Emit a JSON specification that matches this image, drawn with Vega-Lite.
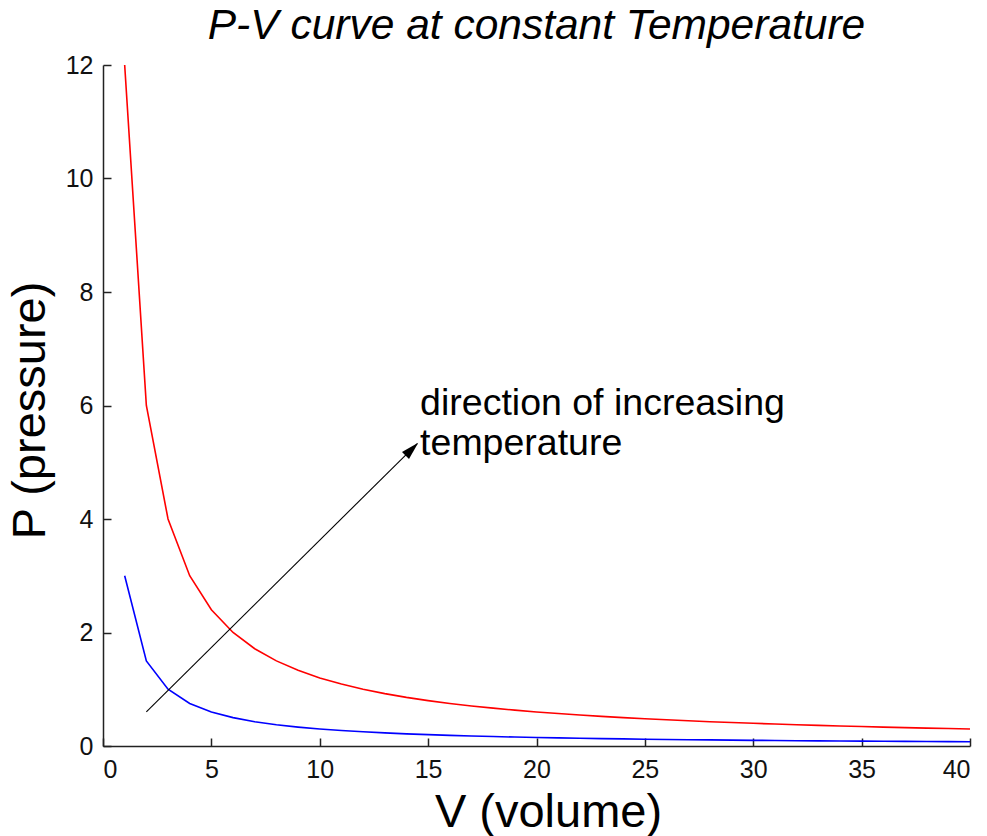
{
  "$schema": "https://vega.github.io/schema/vega-lite/v6.json",
  "autosize": {"type": "none"},
  "width": 867,
  "height": 681,
  "padding": {"left": 103, "top": 65, "right": 17, "bottom": 90},
  "background": "white",
  "config": {
    "font": "Liberation Sans",
    "view": {"stroke": null},
    "axis": {
      "grid": false,
      "domainColor": "#222222",
      "domainWidth": 1.5,
      "tickColor": "#222222",
      "tickWidth": 1.5,
      "tickSize": -8,
      "labelFont": "Liberation Sans",
      "labelFontSize": 25,
      "labelColor": "#111111",
      "titleFont": "Liberation Sans",
      "titleFontSize": 47,
      "titleFontWeight": "normal",
      "titleColor": "#000000"
    }
  },
  "title": {
    "text": "P-V curve at constant Temperature",
    "font": "Liberation Sans",
    "fontSize": 42.5,
    "fontStyle": "italic",
    "fontWeight": "normal",
    "color": "#000000",
    "anchor": "middle",
    "frame": "group",
    "offset": 6
  },
  "datasets": {
    "hot": [
      {"V": 1, "P": 12}, {"V": 2, "P": 6}, {"V": 3, "P": 4}, {"V": 4, "P": 3},
      {"V": 5, "P": 2.4}, {"V": 6, "P": 2}, {"V": 7, "P": 1.7143}, {"V": 8, "P": 1.5},
      {"V": 9, "P": 1.3333}, {"V": 10, "P": 1.2}, {"V": 11, "P": 1.0909}, {"V": 12, "P": 1},
      {"V": 13, "P": 0.9231}, {"V": 14, "P": 0.8571}, {"V": 15, "P": 0.8}, {"V": 16, "P": 0.75},
      {"V": 17, "P": 0.7059}, {"V": 18, "P": 0.6667}, {"V": 19, "P": 0.6316}, {"V": 20, "P": 0.6},
      {"V": 21, "P": 0.5714}, {"V": 22, "P": 0.5455}, {"V": 23, "P": 0.5217}, {"V": 24, "P": 0.5},
      {"V": 25, "P": 0.48}, {"V": 26, "P": 0.4615}, {"V": 27, "P": 0.4444}, {"V": 28, "P": 0.4286},
      {"V": 29, "P": 0.4138}, {"V": 30, "P": 0.4}, {"V": 31, "P": 0.3871}, {"V": 32, "P": 0.375},
      {"V": 33, "P": 0.3636}, {"V": 34, "P": 0.3529}, {"V": 35, "P": 0.3429}, {"V": 36, "P": 0.3333},
      {"V": 37, "P": 0.3243}, {"V": 38, "P": 0.3158}, {"V": 39, "P": 0.3077}, {"V": 40, "P": 0.3}
    ],
    "cold": [
      {"V": 1, "P": 3}, {"V": 2, "P": 1.5}, {"V": 3, "P": 1}, {"V": 4, "P": 0.75},
      {"V": 5, "P": 0.6}, {"V": 6, "P": 0.5}, {"V": 7, "P": 0.4286}, {"V": 8, "P": 0.375},
      {"V": 9, "P": 0.3333}, {"V": 10, "P": 0.3}, {"V": 11, "P": 0.2727}, {"V": 12, "P": 0.25},
      {"V": 13, "P": 0.2308}, {"V": 14, "P": 0.2143}, {"V": 15, "P": 0.2}, {"V": 16, "P": 0.1875},
      {"V": 17, "P": 0.1765}, {"V": 18, "P": 0.1667}, {"V": 19, "P": 0.1579}, {"V": 20, "P": 0.15},
      {"V": 21, "P": 0.1429}, {"V": 22, "P": 0.1364}, {"V": 23, "P": 0.1304}, {"V": 24, "P": 0.125},
      {"V": 25, "P": 0.12}, {"V": 26, "P": 0.1154}, {"V": 27, "P": 0.1111}, {"V": 28, "P": 0.1071},
      {"V": 29, "P": 0.1034}, {"V": 30, "P": 0.1}, {"V": 31, "P": 0.0968}, {"V": 32, "P": 0.0938},
      {"V": 33, "P": 0.0909}, {"V": 34, "P": 0.0882}, {"V": 35, "P": 0.0857}, {"V": 36, "P": 0.0833},
      {"V": 37, "P": 0.0811}, {"V": 38, "P": 0.0789}, {"V": 39, "P": 0.0769}, {"V": 40, "P": 0.075}
    ],
    "arrow": [
      {"V": 2, "P": 0.6, "V2": 14.5, "P2": 5.33}
    ],
    "head": [
      {"V": 14.25, "P": 5.23}
    ],
    "note": [
      {"V": 14.63, "P": 5.83, "label": "direction of increasing"},
      {"V": 14.63, "P": 5.13, "label": "temperature"}
    ]
  },
  "encoding": {
    "x": {
      "field": "V",
      "type": "quantitative",
      "scale": {"domain": [0, 40], "nice": false, "zero": false},
      "axis": {
        "title": "V (volume)",
        "values": [0, 5, 10, 15, 20, 25, 30, 35, 40],
        "labelPadding": 19,
        "titleX": 445,
        "titleY": 66,
        "titleBaseline": "middle",
        "titleAlign": "center"
      }
    },
    "y": {
      "field": "P",
      "type": "quantitative",
      "scale": {"domain": [0, 12], "nice": false, "zero": false},
      "axis": {
        "title": "P (pressure)",
        "values": [0, 2, 4, 6, 8, 10, 12],
        "labelPadding": 18,
        "titleX": -73,
        "titleY": 345,
        "titleBaseline": "middle",
        "titleAlign": "center",
        "titleAngle": -90
      }
    }
  },
  "layer": [
    {
      "data": {"name": "cold"},
      "mark": {"type": "line", "color": "#0000ff", "strokeWidth": 1.6}
    },
    {
      "data": {"name": "hot"},
      "mark": {"type": "line", "color": "#ff0000", "strokeWidth": 1.6}
    },
    {
      "data": {"name": "arrow"},
      "mark": {"type": "rule", "color": "#000000", "strokeWidth": 1.1},
      "encoding": {
        "x2": {"field": "V2"},
        "y2": {"field": "P2"}
      }
    },
    {
      "data": {"name": "head"},
      "mark": {
        "type": "point",
        "shape": "M0,-1L0.55,1L-0.55,1Z",
        "filled": true,
        "color": "#000000",
        "opacity": 1,
        "size": 324,
        "angle": 45
      }
    },
    {
      "data": {"name": "note"},
      "mark": {
        "type": "text",
        "font": "Liberation Sans",
        "fontSize": 37.5,
        "align": "left",
        "baseline": "alphabetic",
        "color": "#000000"
      },
      "encoding": {
        "text": {"field": "label"}
      }
    }
  ]
}
